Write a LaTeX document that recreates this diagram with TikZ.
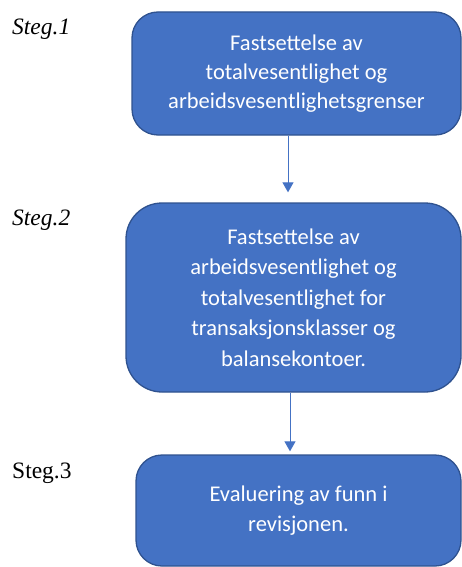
\documentclass[tikz,border=0pt]{standalone}
\usepackage{fontspec}
\setmainfont{Liberation Serif}
\newfontfamily\boxfont{Carlito}
\usetikzlibrary{arrows.meta}
\definecolor{ofblue}{HTML}{4472C4}
\definecolor{ofedge}{HTML}{2F528F}
\begin{document}
\begin{tikzpicture}[x=1pt,y=1pt,
  stepbox/.style={draw=ofedge, line width=1.3pt, fill=ofblue, text=white,
    align=center, inner sep=0pt, font=\boxfont\fontsize{22.5}{29}\selectfont},
  steglabel/.style={anchor=base west, inner sep=0pt, font=\fontsize{23.5}{27}\selectfont},
  flow/.style={draw=ofblue, line width=1pt, -{Triangle[width=11pt,length=10pt]}}]
\useasboundingbox (0,0) rectangle (462,-567);

\node[stepbox, rounded corners=26pt, minimum width=329pt, minimum height=123pt]
  (b1) at (296.5,-73.5) {Fastsettelse av\\totalvesentlighet og\\arbeidsvesentlighetsgrenser};
\node[stepbox, rounded corners=36pt, minimum width=335pt, minimum height=189pt,
  font=\boxfont\fontsize{22.5}{30.5}\selectfont]
  (b2) at (293.5,-297.5) {Fastsettelse av\\arbeidsvesentlighet og\\totalvesentlighet for\\transaksjonsklasser og\\balansekontoer.};
\node[stepbox, rounded corners=26pt, minimum width=325pt, minimum height=111pt,
  font=\boxfont\fontsize{22.5}{30}\selectfont]
  (b3) at (298.5,-510.5) {\raisebox{9pt}{\begin{tabular}{@{}c@{}}Evaluering av funn i\\revisjonen.\end{tabular}}};

\node[steglabel] (s1) at (12,-35) {\itshape Steg.1};
\node[steglabel] (s2) at (12,-225) {\itshape Steg.2};
\node[steglabel] (s3) at (12,-478) {Steg.3};

\coordinate (a1) at (288,0);
\coordinate (a2) at (290,0);
\draw[flow, shorten >=10pt] (b1.south -| a1) -- (b2.north -| a1);
\draw[flow, shorten >=3pt] (b2.south -| a2) -- (b3.north -| a2);
\end{tikzpicture}
\end{document}
